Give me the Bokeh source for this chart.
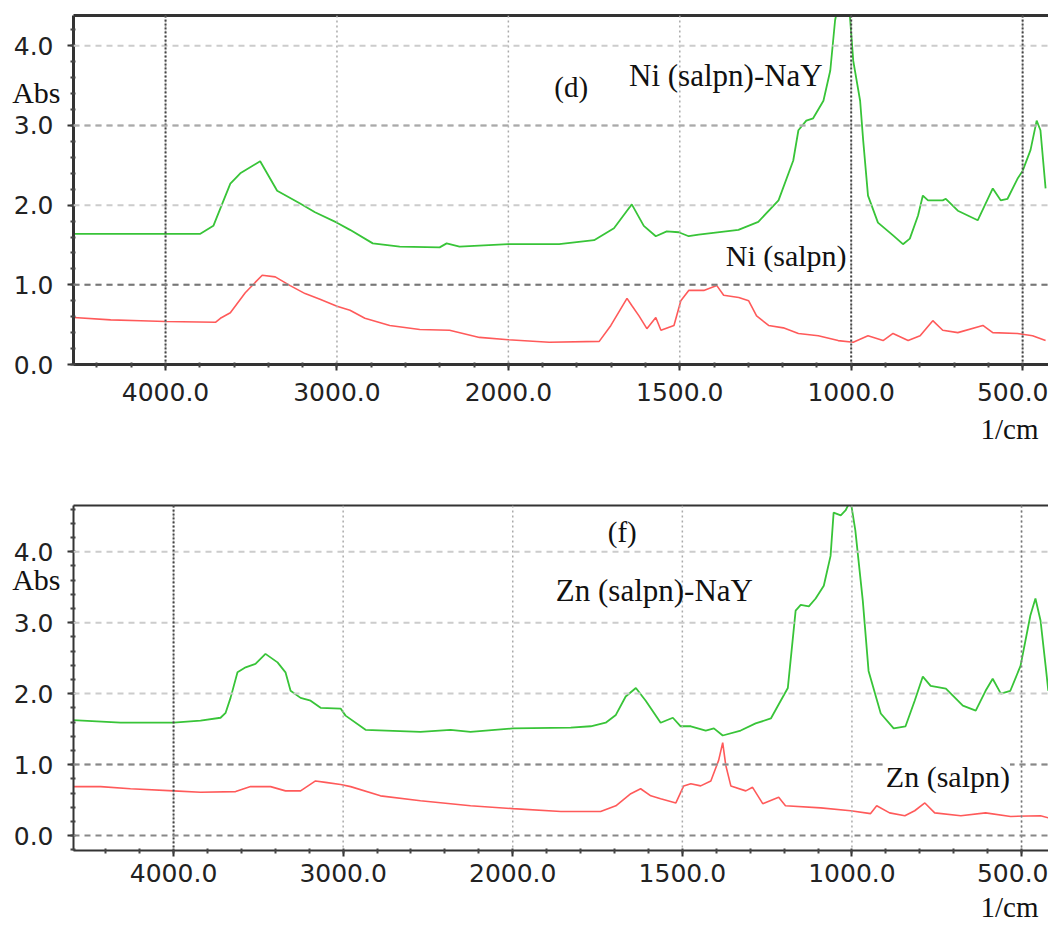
import numpy as np
from bokeh.plotting import figure
from bokeh.layouts import column
from bokeh.models import (FixedTicker, Range1d, LinearAxis, Label, Span, Title)
from bokeh.embed import file_html
from bokeh.resources import INLINE

# ---------------- data (wavenumber in 1/cm, absorbance) ----------------
ni_nay_wn = [4535, 3797, 3721, 3669, 3622, 3564, 3448, 3349, 3215, 3128, 3000, 2924,
             2791, 2634, 2401, 2360, 2285, 2000, 1852, 1750, 1692, 1654, 1640, 1605,
             1570, 1538, 1503, 1474, 1445, 1329, 1271, 1212, 1169, 1154, 1131, 1111,
             1081, 1061, 1047, 1038, 1006, 994, 974, 965, 951, 922, 878, 849, 829,
             805, 791, 776, 733, 724, 689, 631, 587, 564, 544, 515, 500, 477, 459,
             448, 433]
ni_nay_abs = [1.64, 1.64, 1.74, 2.02, 2.27, 2.40, 2.55, 2.18, 2.02, 1.91, 1.78, 1.69,
              1.52, 1.48, 1.47, 1.52, 1.48, 1.51, 1.51, 1.56, 1.71, 1.93, 2.01, 1.74,
              1.61, 1.67, 1.66, 1.61, 1.63, 1.69, 1.79, 2.06, 2.56, 2.94, 3.06, 3.09,
              3.31, 3.69, 4.32, 4.50, 4.50, 3.81, 3.31, 2.81, 2.12, 1.78, 1.62, 1.51, 1.58,
              1.87, 2.12, 2.06, 2.06, 2.08, 1.93, 1.81, 2.21, 2.06, 2.08, 2.33, 2.43,
              2.69, 3.06, 2.94, 2.21]

ni_wn = [4535, 4320, 4145, 4000, 3709, 3680, 3622, 3535, 3477, 3436, 3360, 3273, 3186,
         3099, 3000, 2924, 2837, 2692, 2517, 2343, 2169, 2000, 1881, 1735, 1701, 1654,
         1640, 1619, 1596, 1570, 1555, 1517, 1497, 1474, 1430, 1392, 1372, 1328, 1299,
         1276, 1241, 1198, 1154, 1096, 1038, 994, 951, 907, 878, 834, 799, 762, 733,
         689, 616, 587, 515, 471, 433]
ni_abs = [0.59, 0.56, 0.55, 0.54, 0.53, 0.58, 0.65, 0.90, 1.03, 1.12, 1.10, 0.99, 0.89,
          0.82, 0.73, 0.68, 0.58, 0.49, 0.44, 0.43, 0.34, 0.31, 0.28, 0.29, 0.49, 0.83,
          0.74, 0.61, 0.45, 0.59, 0.43, 0.49, 0.80, 0.93, 0.93, 0.99, 0.87, 0.84, 0.80,
          0.61, 0.49, 0.46, 0.39, 0.36, 0.30, 0.28, 0.36, 0.30, 0.39, 0.30, 0.36, 0.55,
          0.43, 0.40, 0.49, 0.40, 0.39, 0.36, 0.30]

zn_nay_wn = [4619, 4312, 4000, 3841, 3723, 3693, 3664, 3623, 3575, 3517, 3458, 3387, 3340,
             3310, 3251, 3192, 3133, 3015, 2986, 2868, 2544, 2367, 2249, 2000, 1829, 1770,
             1726, 1696, 1667, 1637, 1608, 1564, 1528, 1505, 1475, 1431, 1407, 1381, 1328,
             1284, 1239, 1210, 1189, 1166, 1151, 1127, 1107, 1083, 1063, 1054, 1033, 1019,
             1004, 990, 968, 951, 915, 877, 842, 815, 791, 768, 723, 673, 635, 606, 585,
             561, 533, 503, 474, 459, 444, 429, 421]
zn_nay_abs = [1.63, 1.59, 1.59, 1.62, 1.66, 1.73, 1.94, 2.30, 2.37, 2.42, 2.56, 2.44, 2.30,
              2.04, 1.94, 1.90, 1.80, 1.79, 1.69, 1.49, 1.46, 1.49, 1.46, 1.51, 1.52, 1.54,
              1.59, 1.70, 1.96, 2.08, 1.90, 1.59, 1.66, 1.54, 1.54, 1.48, 1.51, 1.41, 1.48,
              1.58, 1.65, 1.90, 2.08, 3.17, 3.25, 3.23, 3.34, 3.52, 3.94, 4.55, 4.51, 4.58,
              4.72, 4.30, 3.31, 2.32, 1.72, 1.51, 1.54, 1.90, 2.24, 2.11, 2.07, 1.83, 1.76,
              2.04, 2.21, 2.00, 2.04, 2.39, 3.10, 3.34, 3.03, 2.39, 2.04]

zn_wn = [4619, 4430, 4254, 4000, 3841, 3634, 3546, 3428, 3340, 3251, 3163, 3104, 3015,
         2956, 2780, 2544, 2249, 2000, 1858, 1741, 1696, 1652, 1623, 1593, 1564, 1519,
         1496, 1475, 1446, 1416, 1393, 1381, 1372, 1357, 1313, 1293, 1263, 1216, 1196,
         1092, 1004, 945, 927, 889, 844, 815, 785, 756, 679, 606, 532, 444, 421]
zn_abs = [0.69, 0.69, 0.66, 0.63, 0.61, 0.62, 0.69, 0.69, 0.63, 0.63, 0.77, 0.75, 0.72,
          0.69, 0.56, 0.49, 0.42, 0.38, 0.34, 0.34, 0.42, 0.59, 0.66, 0.56, 0.52, 0.46,
          0.70, 0.73, 0.70, 0.77, 1.06, 1.31, 0.99, 0.70, 0.63, 0.68, 0.45, 0.54, 0.42,
          0.39, 0.35, 0.31, 0.42, 0.32, 0.28, 0.35, 0.46, 0.32, 0.28, 0.32, 0.27, 0.28,
          0.25]

tick_wn = [4000, 3000, 2000, 1500, 1000, 500]
tick_labels = ["4000.0", "3000.0", "2000.0", "1500.0", "1000.0", "500.0"]
y_ticks = [0, 1, 2, 3, 4]
y_labels = ["0.0", "1.0", "2.0", "3.0", "4.0"]

GREEN = "#38c438"
RED = "#ff5a5a"
SERIF = "Liberation Serif"
SANS = "DejaVu Sans"


def to_u(wn):
    """Shimadzu-style split axis: scale doubles below 2000 1/cm."""
    wn = np.asarray(wn, dtype=float)
    return np.where(wn >= 2000, 4000 - wn, 2000 + 2 * (2000 - wn))


def make_panel(width, height, left, top, bottom, xr, yr, thick, x_standoff,
               abs_y, cm_standoff):
    p = figure(width=width, height=height, output_backend="svg", toolbar_location=None,
               x_range=Range1d(*xr), y_range=Range1d(*yr),
               min_border_left=left, min_border_right=0, min_border_top=top,
               min_border_bottom=bottom, x_axis_type=None, y_axis_type=None)
    p.outline_line_color = None
    p.background_fill_color = "white"
    p.border_fill_color = "white"

    xt = FixedTicker(ticks=[float(v) for v in to_u(tick_wn)],
                     minor_ticks=list(range(-1000, 5400, 200)))
    xa = LinearAxis(ticker=xt)
    xa.major_label_overrides = {float(u): l for u, l in zip(to_u(tick_wn), tick_labels)}
    yt = FixedTicker(ticks=y_ticks, minor_ticks=list(np.arange(-0.2, 4.8, 0.2).round(2)))
    ya = LinearAxis(ticker=yt)
    ya.major_label_overrides = {t: l for t, l in zip(y_ticks, y_labels)}
    for ax in (xa, ya):
        ax.axis_line_width = thick
        ax.axis_line_color = "#333333"
        ax.major_tick_line_color = "#333333"
        ax.minor_tick_line_color = "#444444"
        ax.major_tick_line_width = 2
        ax.minor_tick_line_width = 2
        ax.major_tick_out = 6
        ax.major_tick_in = 0
        ax.minor_tick_out = 3
        ax.minor_tick_in = 2
        ax.major_label_text_font = SANS
        ax.major_label_text_font_size = "25px"
        ax.major_label_text_color = "#222222"
    xa.major_label_standoff = x_standoff
    ya.major_label_standoff = 14
    p.add_layout(xa, "below")
    p.add_layout(ya, "left")

    # "Abs" label as a tick label of a bare secondary left axis
    abs_ax = LinearAxis(ticker=FixedTicker(ticks=[abs_y], minor_ticks=[]),
                        axis_line_color=None, major_tick_line_color=None,
                        minor_tick_line_color=None, major_tick_out=0, major_tick_in=0,
                        major_label_text_font=SERIF, major_label_text_font_size="30px",
                        major_label_text_color="#111111", major_label_standoff=-50)
    abs_ax.major_label_overrides = {abs_y: "Abs"}
    p.add_layout(abs_ax, "left")

    # "1/cm" unit label under the x axis, right aligned
    p.add_layout(Title(text="1/cm", align="right", text_font=SERIF,
                       text_font_size="29px", text_font_style="normal",
                       text_color="#111111", offset=10, standoff=cm_standoff), "below")

    top_ax = LinearAxis(ticker=FixedTicker(ticks=[]), axis_line_width=thick,
                        axis_line_color="#333333", major_label_text_font_size="0px",
                        major_tick_line_color=None, minor_tick_line_color=None)
    p.add_layout(top_ax, "above")

    # light grid lines; darker overlays added per panel
    for t in to_u(tick_wn):
        p.add_layout(Span(location=float(t), dimension="height", line_color="#aaaaaa",
                          line_width=1.5, line_dash="2 3"))
    for t in y_ticks[1:]:
        p.add_layout(Span(location=t, dimension="width", line_color="#cccccc",
                          line_width=2, line_dash="6 5"))
    return p


def lab(p, wn, y, text, size, bg=None):
    kw = dict(background_fill_color=bg) if bg else {}
    p.add_layout(Label(x=float(to_u(wn)), y=y, text=text, text_font=SERIF,
                       text_font_size=size, text_baseline="middle", text_align="left",
                       text_color="#111111", **kw))


# ---------------- top panel (d) ----------------
p1 = make_panel(1048, 470, 73, 15, 106, (-537, 5151), (0.0, 4.38), 3, 12, 3.41, 14)
for w in (4000, 1000, 500):
    p1.add_layout(Span(location=float(to_u(w)), dimension="height", line_color="#444444",
                       line_width=2, line_dash="2 2"))
p1.add_layout(Span(location=3.0, dimension="width", line_color="#aaaaaa",
                   line_width=2, line_dash="6 5"))
p1.add_layout(Span(location=1.0, dimension="width", line_color="#777777",
                   line_width=2, line_dash="6 5"))
p1.line(to_u(ni_nay_wn), ni_nay_abs, line_color=GREEN, line_width=1.8)
p1.line(to_u(ni_wn), ni_abs, line_color=RED, line_width=1.6)

lab(p1, 1866, 3.48, "(d)", "29px")
lab(p1, 1648, 3.63, "Ni (salpn)-NaY", "31px")
lab(p1, 1366, 1.37, "Ni (salpn)", "30px", bg="white")

# ---------------- bottom panel (f) ----------------
p2 = make_panel(1048, 457, 73, 35, 77, (-590, 5159), (-0.21, 4.65), 2, 7, 3.61, 9)
p2.add_layout(Span(location=float(to_u(4000)), dimension="height", line_color="#444444",
                   line_width=2, line_dash="2 2"))
p2.add_layout(Span(location=float(to_u(500)), dimension="height", line_color="#777777",
                   line_width=1.5, line_dash="2 3"))
for v in (0.0, 1.0):
    p2.add_layout(Span(location=v, dimension="width", line_color="#888888",
                       line_width=2, line_dash="6 5"))
p2.line(to_u(zn_nay_wn), zn_nay_abs, line_color=GREEN, line_width=1.8)
p2.line(to_u(zn_wn), zn_abs, line_color=RED, line_width=1.6)

lab(p2, 1720, 4.27, "(f)", "29px")
lab(p2, 1873, 3.45, "Zn (salpn)-NaY", "31px")
lab(p2, 900, 0.83, "Zn (salpn)", "30px", bg="white")

layout = column(p1, p2)
open("out.html", "w").write(file_html(layout, INLINE))
